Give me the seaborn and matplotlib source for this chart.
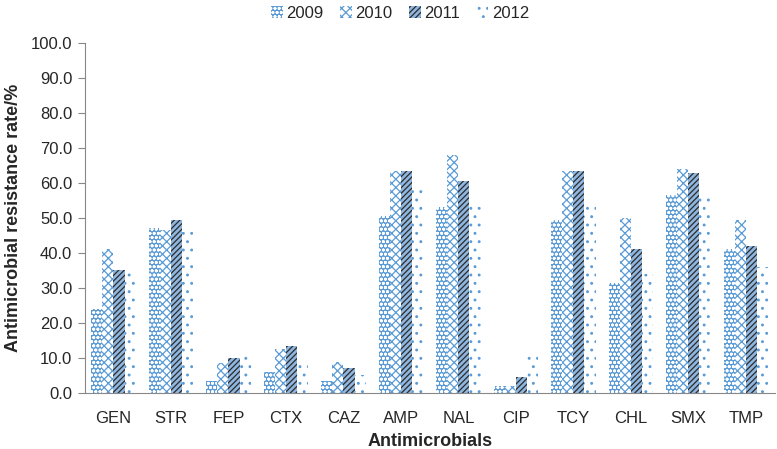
import pandas as pd
import matplotlib
matplotlib.use("Agg")
import matplotlib.pyplot as plt
import seaborn as sns

# Data
drugs = ["GEN", "STR", "FEP", "CTX", "CAZ", "AMP", "NAL", "CIP", "TCY", "CHL", "SMX", "TMP"]
years = ["2009", "2010", "2011", "2012"]
r2009 = [24.0, 47.0, 3.5, 6.0, 3.5, 50.5, 53.0, 2.0, 49.5, 31.5, 56.5, 41.0]
r2010 = [41.0, 46.5, 8.5, 12.5, 8.8, 63.5, 68.0, 2.0, 63.5, 50.0, 64.0, 49.5]
r2011 = [35.0, 49.5, 10.0, 13.5, 7.0, 63.5, 60.5, 4.5, 63.5, 41.0, 63.0, 42.0]
r2012 = [35.0, 46.0, 11.0, 9.5, 5.0, 58.0, 54.0, 11.0, 54.0, 34.0, 57.0, 36.0]

df = pd.DataFrame({
    "drug": drugs * 4,
    "year": sum([[y] * len(drugs) for y in years], []),
    "rate": r2009 + r2010 + r2011 + r2012,
})

sns.set_style("white")
plt.rcParams["font.family"] = ["Liberation Sans", "DejaVu Sans"]
plt.rcParams["hatch.linewidth"] = 0.9

blue = "#5b9bd5"
# face, hatch colour, hatch pattern per year
styles = {
    "2009": ("#5b9bd5", "white", "oooo"),
    "2010": ("white", blue, "xxxx"),
    "2011": ("#8fb6df", "#2b2b2b", "//////"),
    "2012": ("white", blue, ".."),
}

fig = plt.figure(figsize=(7.77, 4.49), dpi=100)
ax = fig.add_axes([0.109, 0.125, 0.888, 0.779])

sns.barplot(data=df, x="drug", y="rate", hue="year", order=drugs, hue_order=years,
            width=0.77, gap=0, ax=ax, legend=False)

for cont, yr in zip(ax.containers, years):
    fc, hc, hatch = styles[yr]
    for bar in cont:
        bar.set_facecolor(fc)
        bar.set_edgecolor(hc)
        bar.set_hatch(hatch)
        bar.set_linewidth(0)

ax.set_xlim(-0.5, 11.5)
ax.set_ylim(0, 100)
ax.set_yticks(range(0, 101, 10))
ax.set_yticklabels([f"{v:.1f}" for v in range(0, 101, 10)], fontsize=12)
ax.set_xticks(range(len(drugs)))
ax.set_xticklabels(drugs, fontsize=12)
ax.tick_params(axis="x", which="major", length=0, pad=13)
ax.set_xticks([i - 0.5 for i in range(len(drugs) + 1)], minor=True)
ax.tick_params(axis="x", which="minor", length=5, color="#888888", direction="out")
ax.tick_params(axis="y", length=5, color="#888888", direction="out", left=True, pad=4)

for s in ["top", "right"]:
    ax.spines[s].set_visible(False)
for s in ["left", "bottom"]:
    ax.spines[s].set_color("#888888")

ax.set_xlabel("Antimicrobials", fontsize=13, fontweight="bold", labelpad=5)
ax.set_ylabel("Antimicrobial resistance rate/%", fontsize=13, fontweight="bold", labelpad=6)

handles = [matplotlib.patches.Patch(facecolor=styles[y][0], edgecolor=styles[y][1],
                                    hatch=styles[y][2], linewidth=0) for y in years]
fig.legend(handles, years, loc="upper center", bbox_to_anchor=(0.515, 1.02), ncol=4,
           frameon=False, fontsize=12, handlelength=0.7, handleheight=0.7,
           handletextpad=0.2, columnspacing=1.0)

fig.savefig("out.png", dpi=100)
